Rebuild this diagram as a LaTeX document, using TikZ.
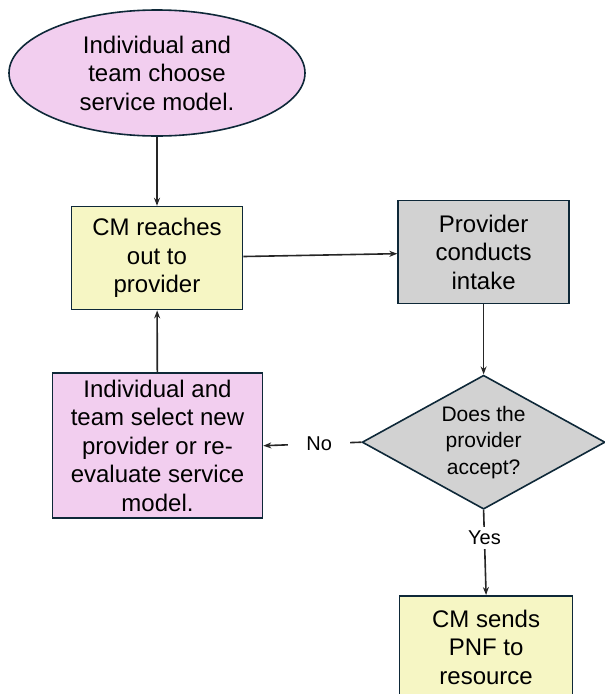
\documentclass[tikz,border=0pt]{standalone}
\usepackage{fontspec}
\setmainfont{Liberation Sans}
\usetikzlibrary{shapes.geometric, arrows.meta, positioning}
\definecolor{edgeblue}{HTML}{0E2838}
\definecolor{pinkfill}{HTML}{F2CEEF}
\definecolor{creamfill}{HTML}{F6F6C4}
\definecolor{greyfill}{HTML}{D2D2D2}

\begin{document}
\begin{tikzpicture}[
    x=1pt, y=1pt,
    every node/.style={font=\fontsize{24}{28.5}\selectfont},
    block/.style={rectangle, draw=edgeblue, line width=1.6pt, minimum width=171pt, minimum height=103pt, inner sep=2pt, align=center},
    cmbox/.style={block, fill=creamfill},
    provbox/.style={block, fill=greyfill},
    teambox/.style={block, fill=pinkfill},
    oval/.style={ellipse, draw=edgeblue, line width=1.6pt, fill=pinkfill, minimum width=296pt, minimum height=126pt, inner sep=0pt, align=center},
    ask/.style={diamond, aspect=1.8, draw=edgeblue, line width=1.6pt, fill=greyfill, minimum width=243pt, minimum height=134pt, inner sep=0pt, align=center, font=\fontsize{21}{26.5}\selectfont},
    arrow/.style={-{Stealth[length=8pt, width=6pt]}, line width=1.6pt, draw=black!85},
    tag/.style={fill=white, font=\fontsize{20}{24}\selectfont}
]
\useasboundingbox (0,0) rectangle (605,-694);
\clip (0,0) rectangle (605,-694);

\node[oval] (start) at (157,-73) {Individual and\\team choose\\service model.};
\node[cmbox, below=69pt of start] (reach) {CM reaches\\out to\\provider};
\node[provbox, right=154pt of reach, yshift=6pt] (intake) {Provider\\conducts\\intake};
\node[ask, below=70pt of intake] (accept) {Does the\\provider\\accept?};
\node[teambox, left=98pt of accept, yshift=-3.5pt, minimum width=210pt, minimum height=145pt] (reselect) {Individual and\\team select new\\provider or re-\\evaluate service\\model.};
% box runs past the bottom edge, as in the original
\node[cmbox, below=85pt of accept, xshift=2.5pt, minimum width=173pt, minimum height=131pt] (pnf) {CM sends\\PNF to\\resource\\\phantom{x}};

\draw[arrow] (start) -- (reach);
\draw[arrow] (reach) -- (intake);
\draw[arrow] (intake) -- (accept);
\draw[arrow] (accept.west) -- node[tag, pos=0.43, inner xsep=18pt] {No} (reselect.east);
\draw[arrow] (reselect) -- (reach);
\draw[arrow] (accept.south) -- node[tag, pos=0.33, inner ysep=4pt] {Yes} (pnf.north);
\end{tikzpicture}
\end{document}
